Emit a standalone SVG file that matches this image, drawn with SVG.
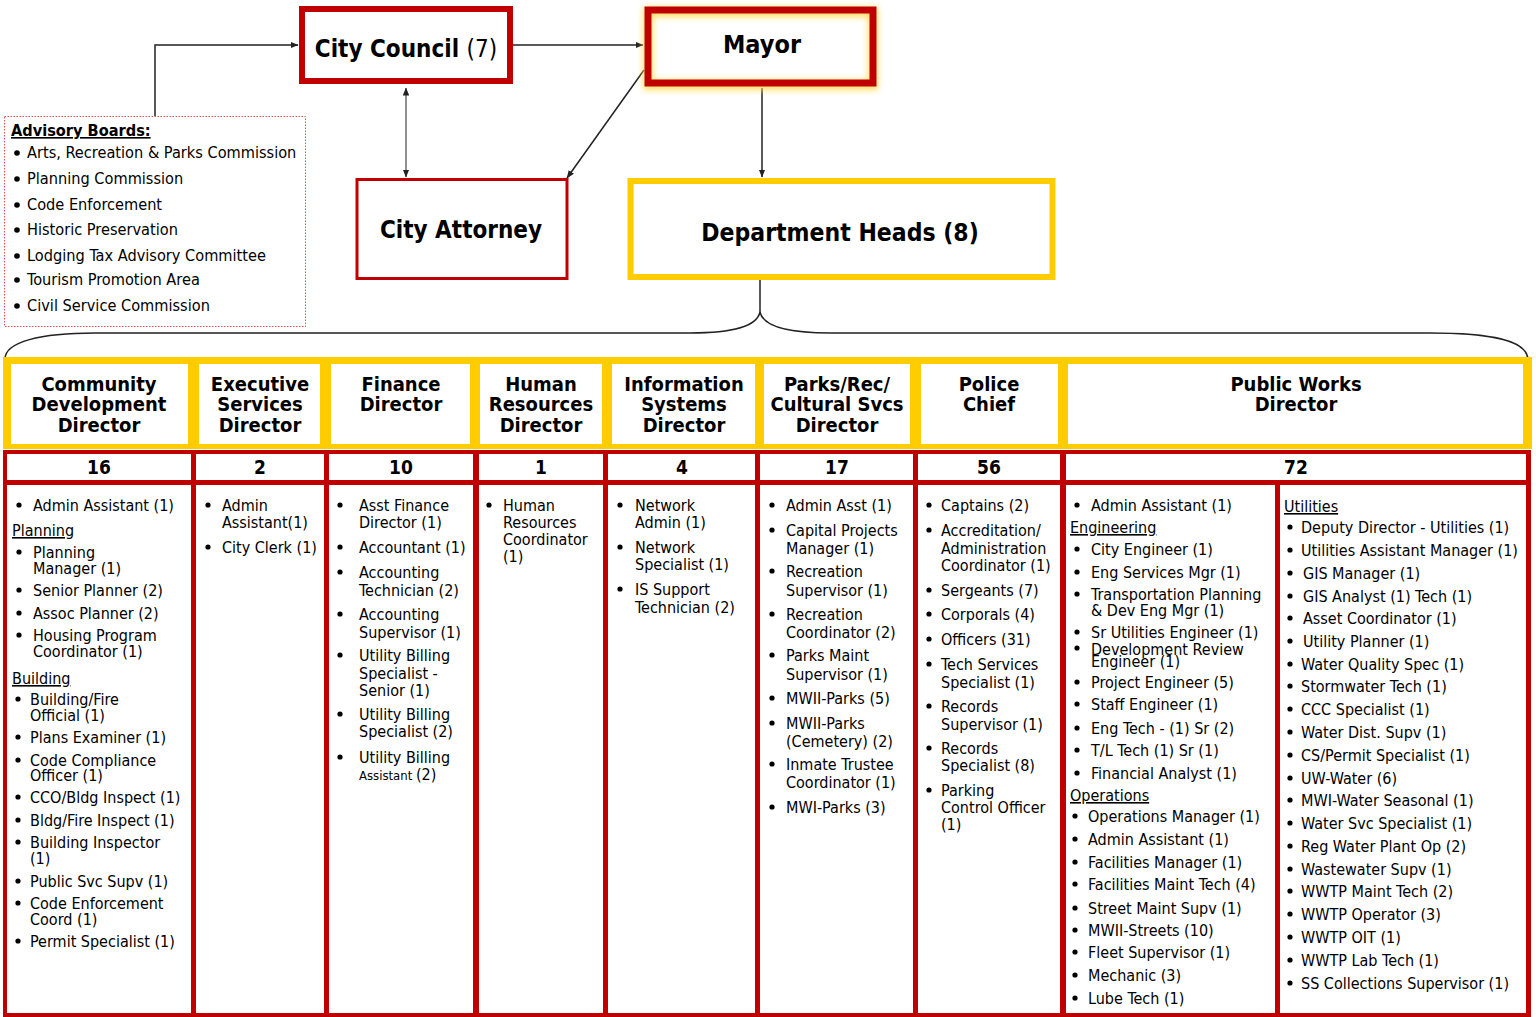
<svg xmlns="http://www.w3.org/2000/svg" width="1536" height="1017" viewBox="0 0 1536 1017">
  <style>
    text { font-family: "DejaVu Sans Condensed", "DejaVu Sans", sans-serif; font-stretch: condensed; fill: #000; }
    .t { font-size: 16px; }
    .u { font-size: 16px; text-decoration: underline; }
    .hd { font-size: 20px; font-weight: bold; text-anchor: middle; }
    .ct { font-size: 19px; font-weight: bold; text-anchor: middle; }
    .big { font-weight: bold; text-anchor: middle; }
    .adv { font-size: 16.2px; }
    .red { fill: none; stroke: #C00000; }
    .yel { fill: none; stroke: #FFCC00; }
    .ln { fill: none; stroke: #222; stroke-width: 1.5; }
    circle { fill: #000; }
  </style>
  <defs>
    <marker id="ah" viewBox="0 0 8 8" refX="7.5" refY="4" markerWidth="8" markerHeight="8" markerUnits="userSpaceOnUse" orient="auto-start-reverse">
      <path d="M0,0.8 L8,4 L0,7.2 z" fill="#222"/>
    </marker>
    <filter id="glow" x="-20%" y="-40%" width="140%" height="180%">
      <feGaussianBlur stdDeviation="3"/>
    </filter>
  </defs>

  <rect width="1536" height="1017" fill="#fff"/>

  <!-- connectors -->
  <g id="connectors">
    <path class="ln" d="M155,116 V45 H298" marker-end="url(#ah)"/>
    <path class="ln" d="M513,45 H643" marker-end="url(#ah)"/>
    <path class="ln" style="stroke-width:1" d="M406,88 V177" marker-start="url(#ah)" marker-end="url(#ah)"/>
    <path class="ln" d="M644,70 L567,178" marker-end="url(#ah)"/>
    <path class="ln" d="M762,88 V177" marker-end="url(#ah)"/>
    <path class="ln" d="M760,280 V312"/>
    <path class="ln" d="M5,359 C5,342 40,333 95,333 L690,333 C735,333 757,326 760,312 C763,326 785,333 830,333 L1430,333 C1490,333 1528,340 1528,360"/>
  </g>

  <!-- City Council -->
  <g id="city-council">
    <rect x="302" y="9" width="208" height="72" fill="#fff" class="red" stroke-width="6"/>
    <text x="406" y="57" style="font-size:24px" text-anchor="middle"><tspan font-weight="bold">City Council </tspan><tspan>(7)</tspan></text>
  </g>

  <!-- Mayor -->
  <g id="mayor">
    <rect x="648" y="12" width="225" height="73" fill="none" stroke="#FFD94A" stroke-width="10" filter="url(#glow)" opacity="0.85"/>
    <rect x="648" y="10" width="225" height="73" class="red" stroke-width="7"/>
    <text x="762" y="53" class="big" style="font-size:25px">Mayor</text>
  </g>

  <!-- City Attorney -->
  <g id="city-attorney">
    <rect x="357" y="179.5" width="210" height="99" fill="#fff" class="red" stroke-width="3"/>
    <text x="461" y="238" class="big" style="font-size:24px">City Attorney</text>
  </g>

  <!-- Department Heads -->
  <g id="department-heads">
    <rect x="630.5" y="181" width="422" height="96" fill="#fff" class="yel" stroke-width="6"/>
    <text x="840" y="241" class="big" style="font-size:24.5px">Department Heads (8)</text>
  </g>

  <!-- Advisory Boards -->
  <g id="advisory-boards">
    <rect x="4.5" y="116.5" width="301" height="210" fill="none" stroke="#E05050" stroke-width="1" stroke-dasharray="1.5,1.5"/>
    <text x="11" y="136" class="adv" font-weight="bold" text-decoration="underline">Advisory Boards:</text>
    <circle cx="17" cy="153" r="2.8"/><text x="27" y="158" class="adv">Arts, Recreation &amp; Parks Commission</text>
    <circle cx="17" cy="179" r="2.8"/><text x="27" y="184" class="adv">Planning Commission</text>
    <circle cx="17" cy="205" r="2.8"/><text x="27" y="210" class="adv">Code Enforcement</text>
    <circle cx="17" cy="230" r="2.8"/><text x="27" y="235" class="adv">Historic Preservation</text>
    <circle cx="17" cy="256" r="2.8"/><text x="27" y="261" class="adv">Lodging Tax Advisory Committee</text>
    <circle cx="17" cy="280" r="2.8"/><text x="27" y="285" class="adv">Tourism Promotion Area</text>
    <circle cx="17" cy="306" r="2.8"/><text x="27" y="311" class="adv">Civil Service Commission</text>
  </g>

  <!-- department table frame -->
  <g id="table-frame">
    <rect x="3" y="357" width="1529" height="92" fill="#FFCC00"/>
    <rect x="11" y="364" width="177" height="80" fill="#fff"/>
    <rect x="199" y="364" width="121" height="80" fill="#fff"/>
    <rect x="331" y="364" width="139" height="80" fill="#fff"/>
    <rect x="480" y="364" width="122" height="80" fill="#fff"/>
    <rect x="612" y="364" width="143" height="80" fill="#fff"/>
    <rect x="764" y="364" width="146" height="80" fill="#fff"/>
    <rect x="921" y="364" width="137" height="80" fill="#fff"/>
    <rect x="1068" y="364" width="455" height="80" fill="#fff"/>

    <rect x="3" y="450" width="1528" height="567" fill="#C00000"/>
    <rect x="7" y="454" width="184" height="26" fill="#fff"/>
    <rect x="196" y="454" width="128" height="26" fill="#fff"/>
    <rect x="329" y="454" width="144" height="26" fill="#fff"/>
    <rect x="479" y="454" width="124" height="26" fill="#fff"/>
    <rect x="608" y="454" width="147" height="26" fill="#fff"/>
    <rect x="760" y="454" width="153" height="26" fill="#fff"/>
    <rect x="918" y="454" width="142" height="26" fill="#fff"/>
    <rect x="1066" y="454" width="460" height="26" fill="#fff"/>

    <rect x="7" y="485" width="184" height="528" fill="#fff"/>
    <rect x="196" y="485" width="128" height="528" fill="#fff"/>
    <rect x="329" y="485" width="144" height="528" fill="#fff"/>
    <rect x="479" y="485" width="124" height="528" fill="#fff"/>
    <rect x="608" y="485" width="147" height="528" fill="#fff"/>
    <rect x="760" y="485" width="153" height="528" fill="#fff"/>
    <rect x="918" y="485" width="142" height="528" fill="#fff"/>
    <rect x="1066" y="485" width="209" height="528" fill="#fff"/>
    <rect x="1280" y="485" width="246" height="528" fill="#fff"/>
  </g>

  <!-- Community Development -->
  <g id="community-development">
    <text class="hd" x="99"><tspan x="99" y="391">Community</tspan><tspan x="99" y="411">Development</tspan><tspan x="99" y="432">Director</tspan></text>
    <text class="ct" x="99" y="474">16</text>
    <circle cx="19" cy="505" r="2.6"/><text class="t" x="33" y="511">Admin Assistant (1)</text>
    <text class="u" x="12" y="536">Planning</text>
    <circle cx="19" cy="552" r="2.6"/><text class="t"><tspan x="33" y="558">Planning</tspan><tspan x="33" y="574">Manager (1)</tspan></text>
    <circle cx="19" cy="590" r="2.6"/><text class="t" x="33" y="596">Senior Planner (2)</text>
    <circle cx="19" cy="613" r="2.6"/><text class="t" x="33" y="619">Assoc Planner (2)</text>
    <circle cx="19" cy="635" r="2.6"/><text class="t"><tspan x="33" y="641">Housing Program</tspan><tspan x="33" y="657">Coordinator (1)</tspan></text>
    <text class="u" x="12" y="684">Building</text>
    <circle cx="18" cy="699" r="2.6"/><text class="t"><tspan x="30" y="705">Building/Fire</tspan><tspan x="30" y="721">Official (1)</tspan></text>
    <circle cx="18" cy="737" r="2.6"/><text class="t" x="30" y="743">Plans Examiner (1)</text>
    <circle cx="18" cy="760" r="2.6"/><text class="t"><tspan x="30" y="766">Code Compliance</tspan><tspan x="30" y="781">Officer (1)</tspan></text>
    <circle cx="18" cy="797" r="2.6"/><text class="t" x="30" y="803">CCO/Bldg Inspect (1)</text>
    <circle cx="18" cy="820" r="2.6"/><text class="t" x="30" y="826">Bldg/Fire Inspect (1)</text>
    <circle cx="18" cy="842" r="2.6"/><text class="t"><tspan x="30" y="848">Building Inspector</tspan><tspan x="30" y="864">(1)</tspan></text>
    <circle cx="18" cy="881" r="2.6"/><text class="t" x="30" y="887">Public Svc Supv (1)</text>
    <circle cx="18" cy="903" r="2.6"/><text class="t"><tspan x="30" y="909">Code Enforcement</tspan><tspan x="30" y="925">Coord (1)</tspan></text>
    <circle cx="18" cy="941" r="2.6"/><text class="t" x="30" y="947">Permit Specialist (1)</text>
  </g>

  <!-- Executive Services -->
  <g id="executive-services">
    <text class="hd"><tspan x="260" y="391">Executive</tspan><tspan x="260" y="411">Services</tspan><tspan x="260" y="432">Director</tspan></text>
    <text class="ct" x="260" y="474">2</text>
    <circle cx="208" cy="505" r="2.6"/><text class="t"><tspan x="222" y="511">Admin</tspan><tspan x="222" y="528">Assistant(1)</tspan></text>
    <circle cx="208" cy="547" r="2.6"/><text class="t" x="222" y="553">City Clerk (1)</text>
  </g>

  <!-- Finance -->
  <g id="finance">
    <text class="hd"><tspan x="401" y="391">Finance</tspan><tspan x="401" y="411">Director</tspan></text>
    <text class="ct" x="401" y="474">10</text>
    <circle cx="340" cy="505" r="2.6"/><text class="t"><tspan x="359" y="511">Asst Finance</tspan><tspan x="359" y="528">Director (1)</tspan></text>
    <circle cx="340" cy="547" r="2.6"/><text class="t" x="359" y="553">Accountant (1)</text>
    <circle cx="340" cy="572" r="2.6"/><text class="t"><tspan x="359" y="578">Accounting</tspan><tspan x="359" y="596">Technician (2)</tspan></text>
    <circle cx="340" cy="614" r="2.6"/><text class="t"><tspan x="359" y="620">Accounting</tspan><tspan x="359" y="638">Supervisor (1)</tspan></text>
    <circle cx="340" cy="655" r="2.6"/><text class="t"><tspan x="359" y="661">Utility Billing</tspan><tspan x="359" y="679">Specialist -</tspan><tspan x="359" y="696">Senior (1)</tspan></text>
    <circle cx="340" cy="714" r="2.6"/><text class="t"><tspan x="359" y="720">Utility Billing</tspan><tspan x="359" y="737">Specialist (2)</tspan></text>
    <circle cx="340" cy="757" r="2.6"/><text class="t"><tspan x="359" y="763">Utility Billing</tspan><tspan x="359" y="780" style="font-size:13px">Assistant </tspan><tspan>(2)</tspan></text>
  </g>

  <!-- Human Resources -->
  <g id="human-resources">
    <text class="hd"><tspan x="541" y="391">Human</tspan><tspan x="541" y="411">Resources</tspan><tspan x="541" y="432">Director</tspan></text>
    <text class="ct" x="541" y="474">1</text>
    <circle cx="489" cy="505" r="2.6"/><text class="t"><tspan x="503" y="511">Human</tspan><tspan x="503" y="528">Resources</tspan><tspan x="503" y="545">Coordinator</tspan><tspan x="503" y="562">(1)</tspan></text>
  </g>

  <!-- Information Systems -->
  <g id="information-systems">
    <text class="hd"><tspan x="684" y="391">Information</tspan><tspan x="684" y="411">Systems</tspan><tspan x="684" y="432">Director</tspan></text>
    <text class="ct" x="682" y="474">4</text>
    <circle cx="620" cy="505" r="2.6"/><text class="t"><tspan x="635" y="511">Network</tspan><tspan x="635" y="528">Admin (1)</tspan></text>
    <circle cx="620" cy="547" r="2.6"/><text class="t"><tspan x="635" y="553">Network</tspan><tspan x="635" y="570">Specialist (1)</tspan></text>
    <circle cx="620" cy="589" r="2.6"/><text class="t"><tspan x="635" y="595">IS Support</tspan><tspan x="635" y="613">Technician (2)</tspan></text>
  </g>

  <!-- Parks / Rec / Cultural Services -->
  <g id="parks-rec">
    <text class="hd"><tspan x="837" y="391">Parks/Rec/</tspan><tspan x="837" y="411">Cultural Svcs</tspan><tspan x="837" y="432">Director</tspan></text>
    <text class="ct" x="837" y="474">17</text>
    <circle cx="772" cy="505" r="2.6"/><text class="t" x="786" y="511">Admin Asst (1)</text>
    <circle cx="772" cy="530" r="2.6"/><text class="t"><tspan x="786" y="536">Capital Projects</tspan><tspan x="786" y="554">Manager (1)</tspan></text>
    <circle cx="772" cy="571" r="2.6"/><text class="t"><tspan x="786" y="577">Recreation</tspan><tspan x="786" y="596">Supervisor (1)</tspan></text>
    <circle cx="772" cy="614" r="2.6"/><text class="t"><tspan x="786" y="620">Recreation</tspan><tspan x="786" y="638">Coordinator (2)</tspan></text>
    <circle cx="772" cy="655" r="2.6"/><text class="t"><tspan x="786" y="661">Parks Maint</tspan><tspan x="786" y="680">Supervisor (1)</tspan></text>
    <circle cx="772" cy="698" r="2.6"/><text class="t" x="786" y="704">MWII-Parks (5)</text>
    <circle cx="772" cy="723" r="2.6"/><text class="t"><tspan x="786" y="729">MWII-Parks</tspan><tspan x="786" y="747">(Cemetery) (2)</tspan></text>
    <circle cx="772" cy="764" r="2.6"/><text class="t"><tspan x="786" y="770">Inmate Trustee</tspan><tspan x="786" y="788">Coordinator (1)</tspan></text>
    <circle cx="772" cy="807" r="2.6"/><text class="t" x="786" y="813">MWI-Parks (3)</text>
  </g>

  <!-- Police -->
  <g id="police">
    <text class="hd"><tspan x="989" y="391">Police</tspan><tspan x="989" y="411">Chief</tspan></text>
    <text class="ct" x="989" y="474">56</text>
    <circle cx="929" cy="505" r="2.6"/><text class="t" x="941" y="511">Captains (2)</text>
    <circle cx="929" cy="530" r="2.6"/><text class="t"><tspan x="941" y="536">Accreditation/</tspan><tspan x="941" y="554">Administration</tspan><tspan x="941" y="571">Coordinator (1)</tspan></text>
    <circle cx="929" cy="590" r="2.6"/><text class="t" x="941" y="596">Sergeants (7)</text>
    <circle cx="929" cy="614" r="2.6"/><text class="t" x="941" y="620">Corporals (4)</text>
    <circle cx="929" cy="639" r="2.6"/><text class="t" x="941" y="645">Officers (31)</text>
    <circle cx="929" cy="664" r="2.6"/><text class="t"><tspan x="941" y="670">Tech Services</tspan><tspan x="941" y="688">Specialist (1)</tspan></text>
    <circle cx="929" cy="706" r="2.6"/><text class="t"><tspan x="941" y="712">Records</tspan><tspan x="941" y="730">Supervisor (1)</tspan></text>
    <circle cx="929" cy="748" r="2.6"/><text class="t"><tspan x="941" y="754">Records</tspan><tspan x="941" y="771">Specialist (8)</tspan></text>
    <circle cx="929" cy="790" r="2.6"/><text class="t"><tspan x="941" y="796">Parking</tspan><tspan x="941" y="813">Control Officer</tspan><tspan x="941" y="830">(1)</tspan></text>
  </g>

  <!-- Public Works -->
  <g id="public-works">
    <text class="hd"><tspan x="1296" y="391">Public Works</tspan><tspan x="1296" y="411">Director</tspan></text>
    <text class="ct" x="1296" y="474">72</text>

    <circle cx="1077" cy="505" r="2.6"/><text class="t" x="1091" y="511">Admin Assistant (1)</text>
    <text class="u" x="1070" y="533">Engineering</text>
    <circle cx="1077" cy="549" r="2.6"/><text class="t" x="1091" y="555">City Engineer (1)</text>
    <circle cx="1077" cy="572" r="2.6"/><text class="t" x="1091" y="578">Eng Services Mgr (1)</text>
    <circle cx="1077" cy="594" r="2.6"/><text class="t"><tspan x="1091" y="600">Transportation Planning</tspan><tspan x="1091" y="616">&amp; Dev Eng Mgr (1)</tspan></text>
    <circle cx="1077" cy="632" r="2.6"/><text class="t" x="1091" y="638">Sr Utilities Engineer (1)</text>
    <circle cx="1077" cy="648" r="2.6"/><text class="t"><tspan x="1091" y="655">Development Review</tspan><tspan x="1091" y="667">Engineer (1)</tspan></text>
    <circle cx="1077" cy="682" r="2.6"/><text class="t" x="1091" y="688">Project Engineer (5)</text>
    <circle cx="1077" cy="704" r="2.6"/><text class="t" x="1091" y="710">Staff Engineer (1)</text>
    <circle cx="1077" cy="728" r="2.6"/><text class="t" x="1091" y="734">Eng Tech - (1) Sr (2)</text>
    <circle cx="1077" cy="750" r="2.6"/><text class="t" x="1091" y="756">T/L Tech (1) Sr (1)</text>
    <circle cx="1077" cy="773" r="2.6"/><text class="t" x="1091" y="779">Financial Analyst (1)</text>
    <text class="u" x="1070" y="801">Operations</text>
    <circle cx="1075" cy="816" r="2.6"/><text class="t" x="1088" y="822">Operations Manager (1)</text>
    <circle cx="1075" cy="839" r="2.6"/><text class="t" x="1088" y="845">Admin Assistant (1)</text>
    <circle cx="1075" cy="862" r="2.6"/><text class="t" x="1088" y="868">Facilities Manager (1)</text>
    <circle cx="1075" cy="884" r="2.6"/><text class="t" x="1088" y="890">Facilities Maint Tech (4)</text>
    <circle cx="1075" cy="908" r="2.6"/><text class="t" x="1088" y="914">Street Maint Supv (1)</text>
    <circle cx="1075" cy="930" r="2.6"/><text class="t" x="1088" y="936">MWII-Streets (10)</text>
    <circle cx="1075" cy="952" r="2.6"/><text class="t" x="1088" y="958">Fleet Supervisor (1)</text>
    <circle cx="1075" cy="975" r="2.6"/><text class="t" x="1088" y="981">Mechanic (3)</text>
    <circle cx="1075" cy="998" r="2.6"/><text class="t" x="1088" y="1004">Lube Tech (1)</text>

    <text class="u" x="1284" y="512">Utilities</text>
    <circle cx="1290" cy="527" r="2.6"/><text class="t" x="1301" y="533">Deputy Director - Utilities (1)</text>
    <circle cx="1290" cy="550" r="2.6"/><text class="t" x="1301" y="556">Utilities Assistant Manager (1)</text>
    <circle cx="1290" cy="573" r="2.6"/><text class="t" x="1303" y="579">GIS Manager (1)</text>
    <circle cx="1290" cy="596" r="2.6"/><text class="t" x="1303" y="602">GIS Analyst (1) Tech (1)</text>
    <circle cx="1290" cy="618" r="2.6"/><text class="t" x="1303" y="624">Asset Coordinator (1)</text>
    <circle cx="1290" cy="641" r="2.6"/><text class="t" x="1303" y="647">Utility Planner (1)</text>
    <circle cx="1290" cy="664" r="2.6"/><text class="t" x="1301" y="670">Water Quality Spec (1)</text>
    <circle cx="1290" cy="686" r="2.6"/><text class="t" x="1301" y="692">Stormwater Tech (1)</text>
    <circle cx="1290" cy="709" r="2.6"/><text class="t" x="1301" y="715">CCC Specialist (1)</text>
    <circle cx="1290" cy="732" r="2.6"/><text class="t" x="1301" y="738">Water Dist. Supv (1)</text>
    <circle cx="1290" cy="755" r="2.6"/><text class="t" x="1301" y="761">CS/Permit Specialist (1)</text>
    <circle cx="1290" cy="778" r="2.6"/><text class="t" x="1301" y="784">UW-Water (6)</text>
    <circle cx="1290" cy="800" r="2.6"/><text class="t" x="1301" y="806">MWI-Water Seasonal (1)</text>
    <circle cx="1290" cy="823" r="2.6"/><text class="t" x="1301" y="829">Water Svc Specialist (1)</text>
    <circle cx="1290" cy="846" r="2.6"/><text class="t" x="1301" y="852">Reg Water Plant Op (2)</text>
    <circle cx="1290" cy="869" r="2.6"/><text class="t" x="1301" y="875">Wastewater Supv (1)</text>
    <circle cx="1290" cy="891" r="2.6"/><text class="t" x="1301" y="897">WWTP Maint Tech (2)</text>
    <circle cx="1290" cy="914" r="2.6"/><text class="t" x="1301" y="920">WWTP Operator (3)</text>
    <circle cx="1290" cy="937" r="2.6"/><text class="t" x="1301" y="943">WWTP OIT (1)</text>
    <circle cx="1290" cy="960" r="2.6"/><text class="t" x="1301" y="966">WWTP Lab Tech (1)</text>
    <circle cx="1290" cy="983" r="2.6"/><text class="t" x="1301" y="989">SS Collections Supervisor (1)</text>
  </g>
</svg>
